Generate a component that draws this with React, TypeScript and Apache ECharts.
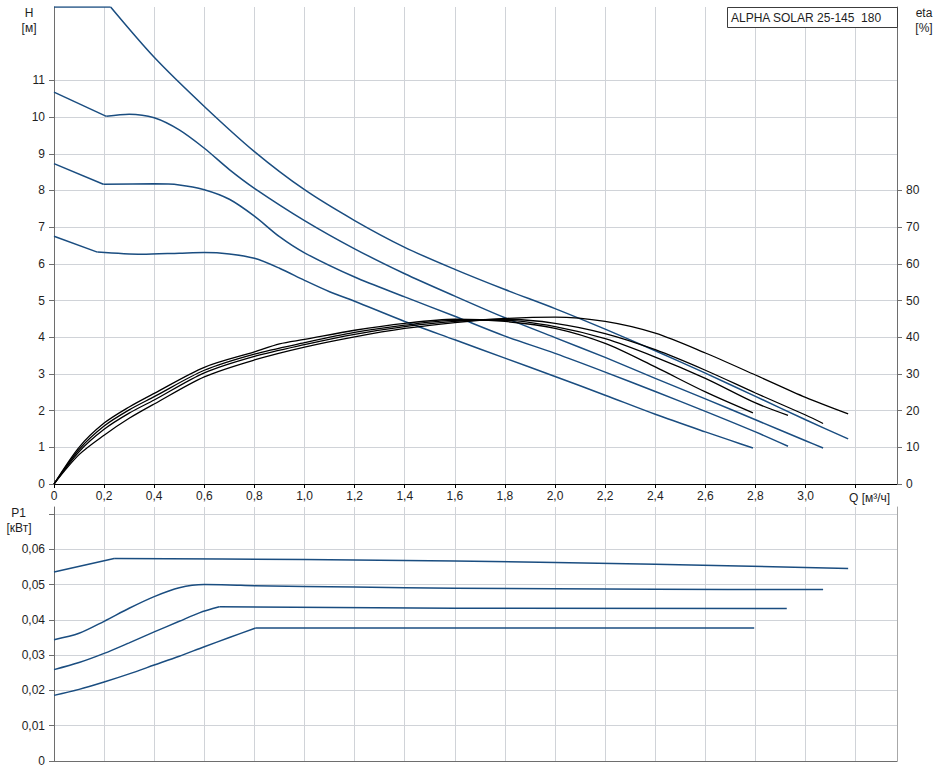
import React, { useEffect, useRef } from 'react';
import * as echarts from 'echarts';

// ---- axis tick values ----
const qLabelValues = [0, 0.2, 0.4, 0.6, 0.8, 1.0, 1.2, 1.4, 1.6, 1.8, 2.0, 2.2, 2.4, 2.6, 2.8, 3.0];
const qTickValues = [...qLabelValues, 3.2];
const hLabelValues = [0, 1, 2, 3, 4, 5, 6, 7, 8, 9, 10, 11];
const etaLabelValues = [0, 10, 20, 30, 40, 50, 60, 70, 80];
const pLabelValues = [0, 0.01, 0.02, 0.03, 0.04, 0.05, 0.06];
const pTickValues = [...pLabelValues, 0.07];

// ---- pump curves H(Q) [m] : straight lead-in + curved part ----
const h1Lead = [[0, 13], [0.226, 13]];
const h1Curve = [[0.226, 13], [0.4, 11.63], [0.6, 10.29], [0.8, 9.06], [1.0, 8.02], [1.2, 7.18], [1.4, 6.45], [1.6, 5.85], [1.8, 5.3], [2.0, 4.78], [2.2, 4.22], [2.4, 3.63], [2.6, 3.02], [2.8, 2.39], [3.0, 1.75], [3.17, 1.23]];
const h2Lead = [[0, 10.68], [0.209, 10.02]];
const h2Curve = [[0.209, 10.02], [0.3, 10.08], [0.4, 9.98], [0.5, 9.65], [0.6, 9.15], [0.7, 8.57], [0.8, 8.06], [1.0, 7.18], [1.2, 6.41], [1.4, 5.73], [1.6, 5.12], [1.8, 4.53], [2.0, 3.99], [2.2, 3.45], [2.4, 2.88], [2.6, 2.32], [2.8, 1.75], [3.0, 1.18], [3.07, 0.98]];
const h3Lead = [[0, 8.73], [0.197, 8.17]];
const h3Curve = [[0.197, 8.17], [0.4, 8.18], [0.5, 8.15], [0.6, 8.02], [0.7, 7.76], [0.8, 7.3], [0.9, 6.74], [1.0, 6.3], [1.2, 5.64], [1.4, 5.1], [1.6, 4.57], [1.8, 4.03], [2.0, 3.56], [2.2, 3.05], [2.4, 2.52], [2.6, 1.98], [2.8, 1.42], [2.93, 1.03]];
const h4Lead = [[0, 6.75], [0.173, 6.32]];
const h4Curve = [[0.173, 6.32], [0.35, 6.26], [0.5, 6.29], [0.6, 6.31], [0.7, 6.27], [0.8, 6.15], [0.9, 5.88], [1.0, 5.55], [1.1, 5.24], [1.2, 4.98], [1.4, 4.43], [1.6, 3.93], [1.8, 3.43], [2.0, 2.93], [2.2, 2.42], [2.4, 1.9], [2.6, 1.42], [2.7, 1.19], [2.79, 0.98]];

// ---- efficiency curves eta(Q) [%] ----
const eta1 = [[0, 0], [0.1, 8.0], [0.2, 13.3], [0.3, 17.9], [0.4, 21.8], [0.6, 29.2], [0.8, 33.8], [1.0, 37.3], [1.2, 40.1], [1.4, 42.4], [1.6, 44.0], [1.8, 45.1], [2.0, 45.5], [2.2, 44.3], [2.4, 41.1], [2.6, 35.7], [2.8, 29.7], [3.0, 23.6], [3.17, 19.1]];
const eta2 = [[0, 0], [0.1, 8.8], [0.2, 14.9], [0.3, 19.3], [0.4, 22.9], [0.6, 30.3], [0.8, 34.8], [1.0, 38.0], [1.2, 40.8], [1.4, 42.9], [1.6, 44.3], [1.8, 44.9], [2.0, 43.8], [2.2, 41.0], [2.4, 36.6], [2.6, 31.0], [2.8, 24.8], [3.0, 18.8], [3.07, 16.5]];
const eta3 = [[0, 0], [0.1, 9.4], [0.2, 15.8], [0.3, 20.2], [0.4, 23.8], [0.6, 31.0], [0.8, 35.4], [1.0, 38.5], [1.2, 41.3], [1.4, 43.3], [1.6, 44.6], [1.8, 44.6], [2.0, 42.9], [2.2, 39.6], [2.4, 34.6], [2.6, 28.8], [2.8, 22.1], [2.93, 18.7]];
const eta4 = [[0, 0], [0.1, 10.0], [0.2, 16.6], [0.3, 21.0], [0.4, 24.7], [0.6, 31.8], [0.8, 36.0], [0.9, 38.2], [1.0, 39.4], [1.2, 41.9], [1.4, 43.8], [1.6, 44.9], [1.8, 44.3], [2.0, 42.4], [2.2, 38.3], [2.4, 31.9], [2.6, 25.1], [2.79, 19.4]];

// ---- power curves P1(Q) [kW] ----
const p1Lead = [[0, 0.0536], [0.24, 0.0574]];
const p1Curve = [[0.24, 0.0574], [1.0, 0.0571], [1.6, 0.0567], [2.4, 0.0558], [3.17, 0.0546]];
const p2Curve = [[0, 0.0344], [0.1, 0.0362], [0.2, 0.0396], [0.3, 0.0433], [0.4, 0.0466], [0.5, 0.0491], [0.6, 0.05], [0.7, 0.0499], [0.8, 0.0497], [1.2, 0.0493], [1.6, 0.049], [2.4, 0.0487], [3.07, 0.0486]];
const p3Curve = [[0, 0.0259], [0.1, 0.0279], [0.2, 0.0305], [0.3, 0.0335], [0.4, 0.0366], [0.5, 0.0396], [0.58, 0.042], [0.66, 0.0437]];
const p3Flat = [[0.66, 0.0437], [1.6, 0.0433], [2.925, 0.0432]];
const p4Curve = [[0, 0.0186], [0.1, 0.0203], [0.2, 0.0224], [0.3, 0.0247], [0.4, 0.0272], [0.5, 0.0297], [0.6, 0.0324], [0.7, 0.035], [0.805, 0.0377]];
const p4Flat = [[0.805, 0.0377], [2.795, 0.0377]];

const FONT = '"Liberation Sans", Arial, sans-serif';
const TXT = '#1e1e1e';
const BLUE = '#1a4d80';
const GRIDC = '#d0d3d8';
const AXISC = '#6e6e6e';

const fmtQ = (v: number) => (v === 0 ? '0' : v.toFixed(1).replace('.', ','));
const fmtP = (v: number) => (v === 0 ? '0' : v.toFixed(2).replace('.', ','));

function line(data: number[][], xAxisIndex: number, yAxisIndex: number, color: string, width: number, smooth: boolean | number) {
  return {
    type: 'line',
    data,
    xAxisIndex,
    yAxisIndex,
    symbol: 'none',
    showSymbol: false,
    smooth,
    silent: true,
    lineStyle: { color, width },
  };
}

export default function App() {
  const ref = useRef<HTMLDivElement>(null);
  useEffect(() => {
    if (!ref.current) return;
    const chart = echarts.init(ref.current, undefined, { renderer: 'svg' });
    const labelStyle = { color: TXT, fontSize: 12, fontFamily: FONT };
    const option: any = {
      animation: false,
      backgroundColor: '#ffffff',
      grid: [
        { left: 54, top: 7, right: 47, height: 477 },
        { left: 54, top: 507, right: 47, height: 254 },
      ],
      xAxis: [
        {
          type: 'value', gridIndex: 0, min: 0, max: 3.365, interval: 0.2,
          axisLine: { show: true, onZero: false, lineStyle: { color: '#000', width: 1 } },
          axisTick: { show: true, length: 4, customValues: qTickValues, lineStyle: { color: '#000' } },
          axisLabel: { ...labelStyle, margin: 6, customValues: qLabelValues, formatter: fmtQ },
          splitLine: { show: true, lineStyle: { color: GRIDC, width: 1 } },
        },
        {
          type: 'value', gridIndex: 1, min: 0, max: 3.365, interval: 0.2,
          axisLine: { show: true, onZero: false, lineStyle: { color: AXISC, width: 1 } },
          axisTick: { show: false },
          axisLabel: { show: false },
          splitLine: { show: true, lineStyle: { color: GRIDC, width: 1 } },
        },
      ],
      yAxis: [
        {
          type: 'value', gridIndex: 0, position: 'left', min: 0, max: 13, interval: 1,
          axisLine: { show: true, onZero: false, lineStyle: { color: AXISC, width: 1 } },
          axisTick: { show: true, length: 5, customValues: hLabelValues, lineStyle: { color: AXISC } },
          axisLabel: { ...labelStyle, margin: 9, customValues: hLabelValues },
          splitLine: { show: true, lineStyle: { color: GRIDC, width: 1 } },
        },
        {
          type: 'value', gridIndex: 0, position: 'right', min: 0, max: 130, interval: 10,
          axisLine: { show: true, onZero: false, lineStyle: { color: AXISC, width: 1 } },
          axisTick: { show: true, length: 5, customValues: etaLabelValues, lineStyle: { color: AXISC } },
          axisLabel: { ...labelStyle, margin: 9, customValues: etaLabelValues },
          splitLine: { show: false },
        },
        {
          type: 'value', gridIndex: 1, position: 'left', min: 0, max: 0.072, interval: 0.01,
          axisLine: { show: true, onZero: false, lineStyle: { color: AXISC, width: 1 } },
          axisTick: { show: true, length: 5, customValues: pTickValues, lineStyle: { color: AXISC } },
          axisLabel: { ...labelStyle, margin: 9, customValues: pLabelValues, formatter: fmtP },
          splitLine: { show: true, lineStyle: { color: GRIDC, width: 1 } },
        },
        {
          type: 'value', gridIndex: 1, position: 'right', min: 0, max: 0.072, interval: 0.01,
          axisLine: { show: true, onZero: false, lineStyle: { color: '#a8a8a8', width: 1 } },
          axisTick: { show: false },
          axisLabel: { show: false },
          splitLine: { show: false },
        },
      ],
      series: [
        line(h1Lead, 0, 0, BLUE, 1.5, false),
        line(h1Curve, 0, 0, BLUE, 1.5, 0.3),
        line(h2Lead, 0, 0, BLUE, 1.5, false),
        line(h2Curve, 0, 0, BLUE, 1.5, 0.3),
        line(h3Lead, 0, 0, BLUE, 1.5, false),
        line(h3Curve, 0, 0, BLUE, 1.5, 0.3),
        line(h4Lead, 0, 0, BLUE, 1.5, false),
        line(h4Curve, 0, 0, BLUE, 1.5, 0.3),
        line(eta1, 0, 1, '#000000', 1.3, 0.3),
        line(eta2, 0, 1, '#000000', 1.3, 0.3),
        line(eta3, 0, 1, '#000000', 1.3, 0.3),
        line(eta4, 0, 1, '#000000', 1.3, 0.3),
        line(p1Lead, 1, 2, BLUE, 1.5, false),
        line(p1Curve, 1, 2, BLUE, 1.5, 0.3),
        line(p2Curve, 1, 2, BLUE, 1.5, 0.3),
        line(p3Curve, 1, 2, BLUE, 1.5, 0.3),
        line(p3Flat, 1, 2, BLUE, 1.5, false),
        line(p4Curve, 1, 2, BLUE, 1.5, 0.3),
        line(p4Flat, 1, 2, BLUE, 1.5, false),
      ],
      graphic: [
        { type: 'text', x: 29, y: 13, style: { text: 'H', fill: TXT, font: `12px ${FONT}`, align: 'center', verticalAlign: 'middle' } },
        { type: 'text', x: 29, y: 28, style: { text: '[м]', fill: TXT, font: `12px ${FONT}`, align: 'center', verticalAlign: 'middle' } },
        { type: 'text', x: 924, y: 13, style: { text: 'eta', fill: TXT, font: `12px ${FONT}`, align: 'center', verticalAlign: 'middle' } },
        { type: 'text', x: 924, y: 28, style: { text: '[%]', fill: TXT, font: `12px ${FONT}`, align: 'center', verticalAlign: 'middle' } },
        { type: 'text', x: 18.5, y: 513, style: { text: 'P1', fill: TXT, font: `12px ${FONT}`, align: 'center', verticalAlign: 'middle' } },
        { type: 'text', x: 19, y: 528, style: { text: '[кВт]', fill: TXT, font: `12px ${FONT}`, align: 'center', verticalAlign: 'middle' } },
        { type: 'text', x: 849, y: 498, style: { text: 'Q [м³/ч]', fill: TXT, font: `12px ${FONT}`, align: 'left', verticalAlign: 'middle' } },
        { type: 'rect', shape: { x: 727.5, y: 7.5, width: 170, height: 20 }, style: { fill: '#ffffff', stroke: '#3c3c3c', lineWidth: 1 }, z: 100 },
        { type: 'text', x: 731, y: 17.5, style: { text: 'ALPHA SOLAR 25-145\u00a0\u00a0180', fill: TXT, font: `12px ${FONT}`, align: 'left', verticalAlign: 'middle' }, z: 101 },
      ],
    };
    chart.setOption(option);
    return () => chart.dispose();
  }, []);
  return <div ref={ref} style={{ position: 'fixed', left: 0, top: 0, width: 944, height: 771, background: '#fff' }} />;
}
